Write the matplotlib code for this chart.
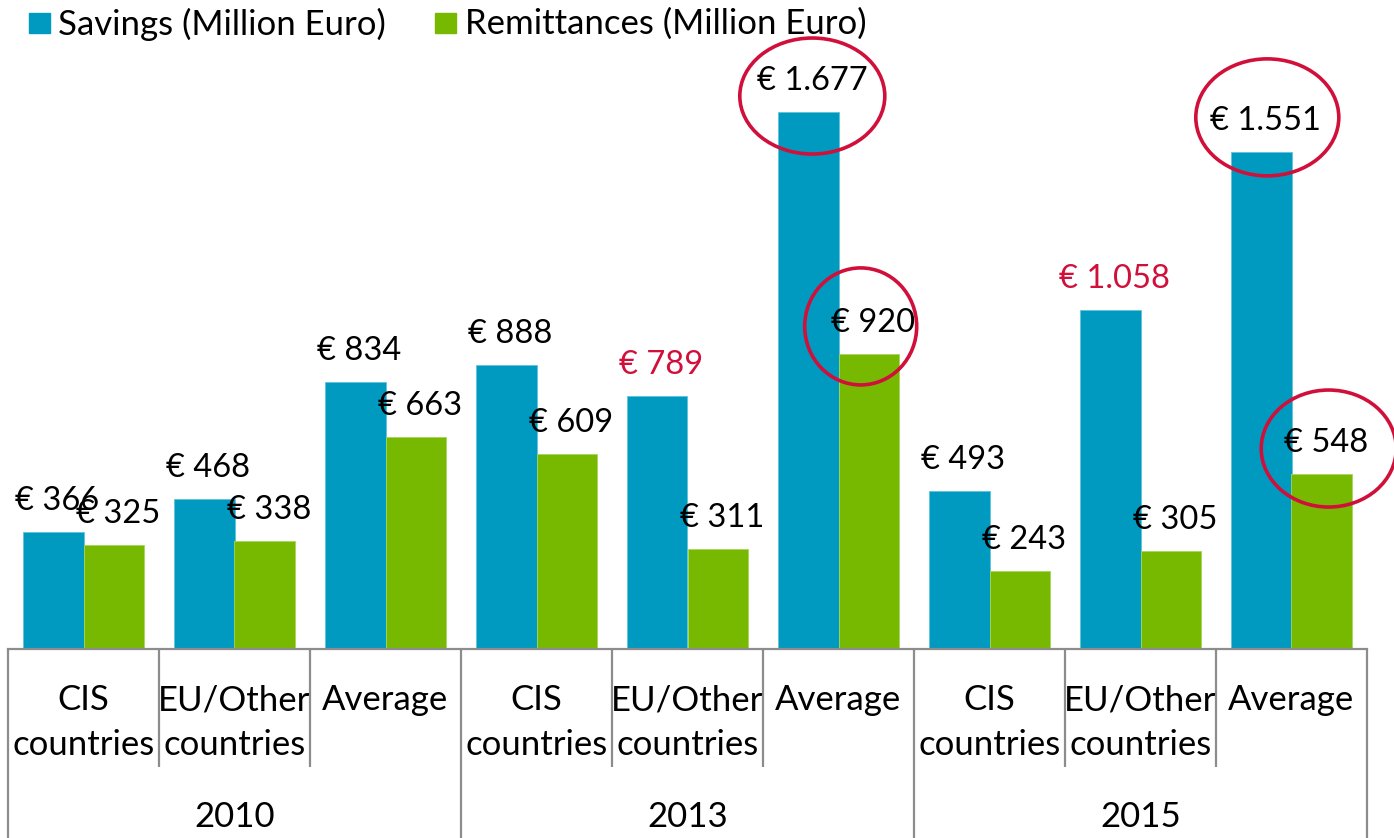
import matplotlib
matplotlib.use("Agg")
import matplotlib.pyplot as plt
import matplotlib.transforms as mtransforms
from matplotlib.patches import Ellipse, Rectangle
import numpy as np

# ---------------- data ----------------
years = ["2010", "2013", "2015"]
subcats = ["CIS\ncountries", "EU/Other\ncountries", "Average"]
series_names = ["Savings (Million Euro)", "Remittances (Million Euro)"]
savings = [366, 468, 834, 888, 789, 1677, 493, 1058, 1551]
remittances = [325, 338, 663, 609, 311, 920, 243, 305, 548]
red_label_savings = [4, 7]          # savings labels shown in red
circled_savings = [5, 8]            # savings labels circled
circled_remittances = [5, 8]        # remittances labels circled

# ---------------- style ----------------
BLUE = "#0099BF"
GREEN = "#77B900"
RED = "#D0103A"
GREY = "#8C8C8C"
FONT = ["Lato", "DejaVu Sans"]
FS_NUM = 23.5
FS_TXT = 25
plt.rcParams["font.family"] = FONT

W, H = 1394, 838
fig = plt.figure(figsize=(W / 100, H / 100), dpi=100)
ax_l, ax_r, ax_b, ax_t = 8, 1367, 649, 45
ax = fig.add_axes([ax_l / W, (H - ax_b) / H, (ax_r - ax_l) / W, (ax_b - ax_t) / H])

n = len(savings)
x = np.arange(n)
bw = 0.4
ax.bar(x - bw / 2, savings, bw, color=BLUE, edgecolor="#5EC3DA", linewidth=0.6)
ax.bar(x + bw / 2, remittances, bw, color=GREEN, edgecolor="#A5D65A", linewidth=0.6)

ax.set_xlim(-0.5, n - 0.5)
ax.set_ylim(0, 604 / 0.3202)
ax.set_xticks([])
ax.set_yticks([])
for s in ["top", "left", "right"]:
    ax.spines[s].set_visible(False)
ax.spines["bottom"].set_color(GREY)
ax.spines["bottom"].set_linewidth(1.6)


def fmt(v):
    return "€ " + f"{v:,}".replace(",", ".")


LABEL_OFF = 34  # px above bar top (visual centre of label)
TXT_OFF = (4 * 0.72, (LABEL_OFF - 3) * 0.72)
for i, v in enumerate(savings):
    ax.annotate(fmt(v), (x[i] - bw / 2, v), xytext=TXT_OFF,
                textcoords="offset points", ha="center", va="center",
                fontsize=FS_NUM, color=RED if i in red_label_savings else "black",
                annotation_clip=False)
for i, v in enumerate(remittances):
    ax.annotate(fmt(v), (x[i] + bw / 2, v), xytext=TXT_OFF,
                textcoords="offset points", ha="center", va="center",
                fontsize=FS_NUM, color="black", annotation_clip=False)

# highlight ellipses (pixel offsets relative to label centre, width, height)
ell_specs_sav = {5: (4, -18, 145, 116), 8: (6, 1, 143, 117)}
ell_specs_rem = {5: (-8, -6, 112, 117), 8: (7, -9, 135, 117)}


def add_ellipse(xd, v, spec):
    dx, dy, w, h = spec
    cx, cy = ax.transData.transform((xd, v))
    e = Ellipse((cx + dx, cy + LABEL_OFF + dy), w, h, fill=False,
                edgecolor=RED, linewidth=2.6, transform=mtransforms.IdentityTransform())
    fig.add_artist(e)


for i in circled_savings:
    add_ellipse(x[i] - bw / 2, savings[i], ell_specs_sav[i])
for i in circled_remittances:
    add_ellipse(x[i] + bw / 2, remittances[i], ell_specs_rem[i])

# ---------------- multi-level category axis ----------------
trans = mtransforms.blended_transform_factory(ax.transData, ax.transAxes)
axh = ax_b - ax_t


def yf(py):
    return -(py - ax_b) / axh


for b in np.arange(-0.5, n, 1.0):
    is_group = abs(((b + 0.5) % 3)) < 1e-9
    y_end = yf(838) if is_group else yf(767)
    ax.plot([b, b], [0, y_end], transform=trans, color=GREY, lw=1.6, clip_on=False,
            solid_capstyle="butt")

for i in range(n):
    lines = subcats[i % 3].split("\n")
    for j, line in enumerate(lines):
        ax.text(x[i], yf([710, 755][j]), line, transform=trans, ha="center",
                va="baseline", fontsize=FS_TXT)
for g, yr in enumerate(years):
    ax.text(3 * g + 1, yf(827), yr, transform=trans, ha="center", va="baseline",
            fontsize=FS_TXT)

# ---------------- legend ----------------
leg_items = [(series_names[0], BLUE, 29, 58), (series_names[1], GREEN, 435, 465)]
for name, col, sx, tx in leg_items:
    fig.add_artist(Rectangle((sx / W, 1 - 33 / H), 21 / W, 20 / H, color=col,
                             transform=fig.transFigure))
    fig.text(tx / W, 1 - 24 / H, name, ha="left", va="center", fontsize=FS_TXT)

fig.savefig("out.png", dpi=100)
